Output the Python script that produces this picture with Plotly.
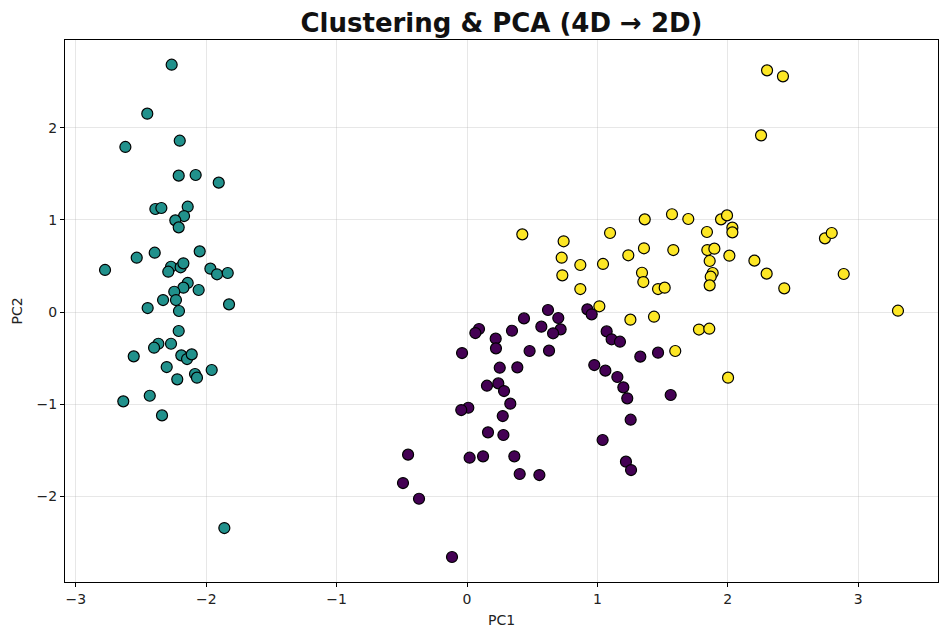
import plotly.graph_objects as go

# Cluster 0 (purple)
c0_x = [0.437, 0.570, 0.092, 0.064, 0.345, 0.220, 0.222, 0.480, -0.038, 0.251, 0.386, 0.153, 0.240,
        0.284, 0.332, 0.010, -0.044, 0.274, 0.161, 0.279, -0.452, 0.020, 0.123, 0.363, 0.404, 0.555,
        -0.491, -0.368, -0.115,
        0.621, 0.700, 0.718, 0.660, 0.629, 0.923, 0.956, 1.071, 1.109, 1.173, 1.329, 1.465, 0.976,
        1.061, 1.153, 1.199, 1.229, 1.562, 1.255, 1.040, 1.219, 1.258]
c0_y = [-0.069, -0.159, -0.184, -0.228, -0.203, -0.289, -0.394, -0.423, -0.445, -0.604, -0.600, -0.799, -0.774,
        -0.857, -0.994, -1.038, -1.063, -1.128, -1.305, -1.334, -1.547, -1.580, -1.565, -1.565, -1.757, -1.768,
        -1.855, -2.025, -2.657,
        0.022, -0.065, -0.188, -0.231, -0.419, 0.029, -0.025, -0.210, -0.296, -0.322, -0.484, -0.441, -0.575,
        -0.636, -0.705, -0.817, -0.936, -0.900, -1.168, -1.388, -1.623, -1.714]

# Cluster 1 (teal)
c1_x = [-2.265, -2.452, -2.620, -2.203, -2.211, -2.081, -1.904, -2.390, -2.344, -2.142, -2.170, -2.237, -2.211,
        -2.776, -2.533, -2.395, -2.050, -2.270, -2.291, -2.196, -2.175, -1.968, -1.917, -1.835, -2.142, -2.175,
        -2.245, -2.058, -2.331, -2.232, -2.449, -2.209, -1.825, -2.211, -2.367, -2.400, -2.270, -2.556, -2.191,
        -2.147, -2.111, -2.303, -2.086, -2.071, -1.958, -2.222, -2.433, -2.636, -2.339, -1.861]
c1_y = [2.682, 2.151, 1.790, 1.858, 1.479, 1.486, 1.403, 1.117, 1.128, 1.142, 1.041, 0.994, 0.918,
        0.456, 0.589, 0.643, 0.658, 0.491, 0.437, 0.485, 0.528, 0.470, 0.409, 0.423, 0.315, 0.264,
        0.220, 0.239, 0.130, 0.130, 0.043, 0.011, 0.083, -0.206, -0.344, -0.387, -0.344, -0.481, -0.470,
        -0.510, -0.459, -0.597, -0.672, -0.712, -0.629, -0.730, -0.908, -0.969, -1.121, -2.343]

# Cluster 2 (yellow)
c2_x = [0.424, 0.741, 0.726, 0.869, 0.731, 0.869, 1.043, 1.097, 1.363, 1.572, 1.697, 1.237, 1.357, 1.582,
        1.342, 1.352, 1.465, 1.516, 1.015, 1.253, 1.434, 1.779, 1.597,
        2.301, 2.423, 2.255, 1.948, 1.994, 2.035, 2.035, 1.840, 2.745, 2.797,
        1.843, 1.897, 2.012, 1.861, 2.204, 1.884, 1.869, 2.298, 2.889, 1.861, 2.433, 3.305, 1.858, 2.002]
c2_y = [0.842, 0.767, 0.589, 0.510, 0.398, 0.249, 0.521, 0.857, 1.005, 1.060, 1.009, 0.615, 0.691, 0.672,
        0.426, 0.325, 0.249, 0.264, 0.062, -0.083, -0.051, -0.190, -0.423,
        2.621, 2.556, 1.916, 1.005, 1.048, 0.915, 0.864, 0.868, 0.799, 0.857,
        0.672, 0.687, 0.611, 0.553, 0.557, 0.423, 0.383, 0.416, 0.412, 0.289, 0.257, 0.014, -0.181, -0.712]

clusters = [(c0_x, c0_y, "#440154"), (c1_x, c1_y, "#21918c"), (c2_x, c2_y, "#fde725")]

fig = go.Figure()
for xs, ys, col in clusters:
    fig.add_trace(go.Scatter(
        x=xs, y=ys, mode="markers",
        marker=dict(size=11, color=col, line=dict(color="black", width=1.2)),
        showlegend=False,
    ))

font = "DejaVu Sans"
axis_common = dict(
    showgrid=True, gridcolor="rgba(176,176,176,0.3)", gridwidth=1,
    zeroline=False, showline=True, linecolor="black", linewidth=1, mirror=True,
    ticks="outside", ticklen=4, tickwidth=1, tickcolor="black",
    tickfont=dict(family=font, size=14, color="#222"),
)
fig.update_xaxes(range=[-3.083, 3.612], dtick=1,
                 title=dict(text="PC1", font=dict(family=font, size=14, color="#222"), standoff=9), **axis_common)
fig.update_yaxes(range=[-2.928, 2.95], dtick=1,
                 title=dict(text="PC2", font=dict(family=font, size=14, color="#222"), standoff=10), **axis_common)

fig.update_layout(
    width=949, height=640,
    margin=dict(l=65, r=11, t=40, b=58),
    plot_bgcolor="white", paper_bgcolor="white",
    title=dict(text="<b>Clustering &amp; PCA (4D → 2D)</b>", xref="paper", x=0.5, xanchor="center",
               y=0.965, yanchor="middle",
               font=dict(family=font, size=26, color="#111")),
)

fig.write_html("out.html")
